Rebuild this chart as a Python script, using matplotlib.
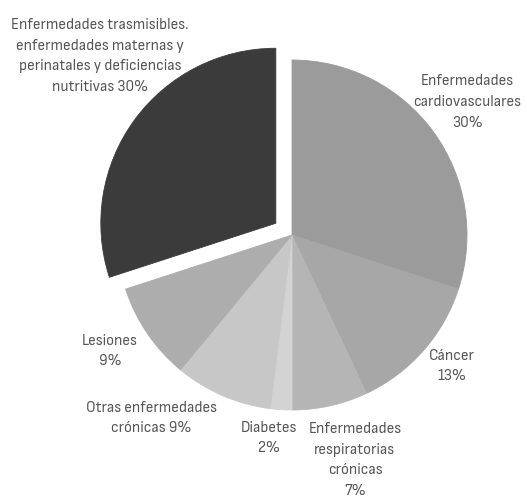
import matplotlib
matplotlib.use("Agg")
import matplotlib.pyplot as plt

plt.rcParams['font.family'] = ['Sofia Sans Semi Condensed', 'DejaVu Sans']

# --- DATA ---
categories = [
    "Enfermedades\ncardiovasculares",
    "Cáncer",
    "Enfermedades\nrespiratorias\ncrónicas",
    "Diabetes",
    "Otras enfermedades\ncrónicas",
    "Lesiones",
    "Enfermedades trasmisibles.\nenfermedades maternas y\nperinatales y deficiencias\nnutritivas",
]
shares = [30, 13, 7, 2, 9, 9, 30]
# how each share is joined to its name
pct_sep = ["\n", "\n", "\n", "\n", " ", "\n", " "]

colors = ['#9b9b9b', '#a7a7a7', '#b5b5b5', '#d3d3d3', '#c7c7c7', '#adadad', '#3b3b3b']
explode = [0, 0, 0, 0, 0, 0, 20]   # pie() takes this in data units (pixels here)

# label anchor points, pixels from the top-left corner
label_pos = [(467, 102), (452, 366), (355, 460), (269, 438), (151, 418), (110, 351), (100, 56)]

W, H = 527, 499
fig = plt.figure(figsize=(W / 100, H / 100), dpi=100)
ax = fig.add_axes([0, 0, 1, 1])

wedges, _ = ax.pie(shares, colors=colors, explode=explode, startangle=90,
                   counterclock=False, center=(292, H - 235), radius=175)
for w in wedges:
    w.set_edgecolor(w.get_facecolor())
    w.set_linewidth(0.6)

for name, val, sep, (x, y) in zip(categories, shares, pct_sep, label_pos):
    ax.text(x, H - y, f"{name}{sep}{val}%", ha='center', va='center',
            fontsize=11.3, color='#555555', linespacing=1.62)

ax.set_xlim(0, W)
ax.set_ylim(0, H)
ax.set_aspect('equal')
ax.axis('off')

fig.savefig('out.png', dpi=100, facecolor='white')
